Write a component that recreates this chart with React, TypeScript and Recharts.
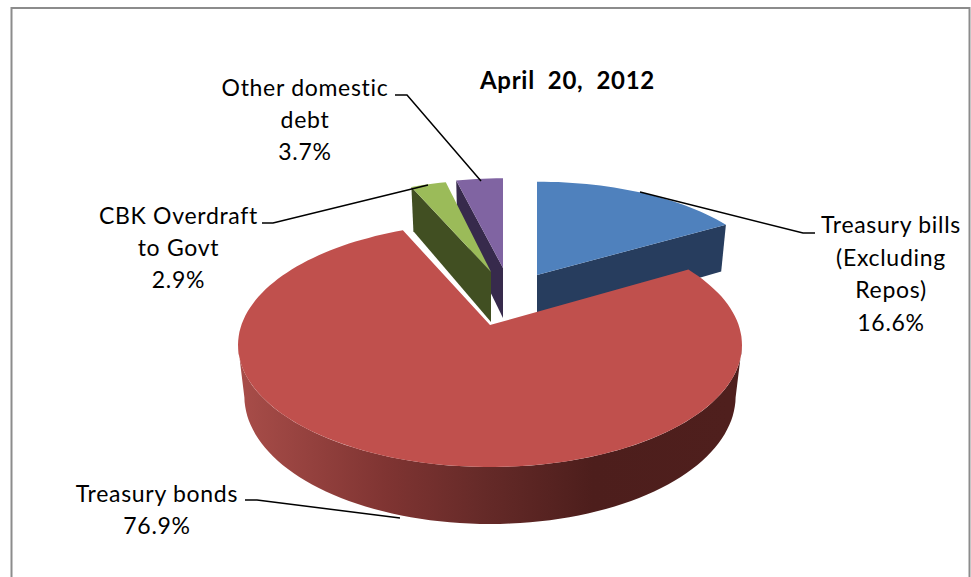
import { Pie, PieChart } from "recharts";

const sliceNames = [
  "Treasury bills (Excluding Repos)",
  "Other domestic debt",
  "CBK Overdraft to Govt",
  "Treasury bonds",
];
const sliceValues = [16.6, 3.7, 2.9, 76.9];
const titleText = "April  20,  2012";

const tableData = sliceNames.map((name, i) => ({ name, value: sliceValues[i] }));
const total = sliceValues.reduce((a, b) => a + b, 0);
// Bills start at 12 o'clock going clockwise, the sweep runs the other way so the bonds paint last.
const firstAngle = 90 - (sliceValues[0] / total) * 360;

const FONT = "Lato, Carlito, sans-serif";
const PIE_CX = 490;
const PIE_CY = 325;
const PIE_R = 248.6;
const SQUASH = 118.9;
const PERSPECTIVE = 0.1627;

const sliceLook = [
  { face: "#4F81BD", wall: "#273D5E", side: "start", dx: 47, dy: -50, kx: 0.945, ky: 0.9 },
  { face: "#8064A2", wall: "#372A4C", side: "end", dx: 13, dy: -57, kx: 0.93, ky: 0.86 },
  { face: "#9BBB59", wall: "#414F22", side: "end", dx: 1, dy: -53, kx: 0.9, ky: 0.885 },
  { face: "#C0504D", wall: "url(#bondsWall)", side: "outer", dx: 0, dy: 0, kx: 1, ky: 1 },
];

const labelLook = [
  { lines: ["Treasury bills", "(Excluding", "Repos)"], x: 891, y: 233, step: 32.7, line: "640,192 803,233 815,233" },
  { lines: ["Other domestic", "debt"], x: 305, y: 96, step: 32, line: "481,181 407,95 395,95" },
  { lines: ["CBK Overdraft", "to Govt"], x: 178.5, y: 224, step: 32, line: "428,185 273,223 262,223" },
  { lines: ["Treasury bonds"], x: 157, y: 502, step: 31.5, line: "400,518 257,500 245,500" },
];

// Tilted disc: (u, v) on the unit circle through a perspective divide, v points away from the viewer.
function project(angle: number, radius: number, look: (typeof sliceLook)[number], lower: boolean) {
  const rad = (angle * Math.PI) / 180;
  const u = Math.cos(rad) * radius * look.kx;
  const v = Math.sin(rad) * radius * look.ky;
  const div = 1 + PERSPECTIVE * v;
  const xScale = lower ? 0.975 : 1;
  return {
    x: PIE_CX + look.dx + ((PIE_R * u) / div) * xScale,
    y: PIE_CY + look.dy - (SQUASH * v) / div + (lower ? 50 - 7 * v : 0),
  };
}

const toPath = (pts: { x: number; y: number }[]) =>
  pts.map((p, i) => `${i ? "L" : "M"}${p.x.toFixed(1)},${p.y.toFixed(1)}`).join(" ") + " Z";

function arc(from: number, to: number, look: (typeof sliceLook)[number], lower: boolean) {
  const steps = Math.max(2, Math.ceil(Math.abs(to - from) / 2));
  const pts = [];
  for (let i = 0; i <= steps; i++) {
    pts.push(project(from + ((to - from) * i) / steps, 1, look, lower));
  }
  return pts;
}

function SliceShape(props: any) {
  const look = sliceLook[sliceNames.indexOf(props.name)];
  const { startAngle, endAngle } = props;
  const apex = project(0, 0, look, false);
  const apexLow = project(0, 0, look, true);
  let wall: string;
  if (look.side === "outer") {
    wall = toPath([...arc(190, 350, look, false), ...arc(350, 190, look, true)]);
  } else {
    const a = look.side === "start" ? startAngle : endAngle;
    wall = toPath([apex, project(a, 1, look, false), project(a, 1, look, true), apexLow]);
  }
  return (
    <g>
      <path d={wall} fill={look.wall} />
      <path d={toPath([apex, ...arc(startAngle, endAngle, look, false)])} fill={look.face} />
    </g>
  );
}

function SliceLabel(props: any) {
  const idx = sliceNames.indexOf(props.name);
  const look = labelLook[idx];
  const rows = [...look.lines, `${sliceValues[idx].toFixed(1)}%`];
  return (
    <g>
      <polyline points={look.line} fill="none" stroke="#000" strokeWidth={1.5} />
      <text textAnchor="middle" fontFamily={FONT} fontSize={23} letterSpacing={0.7} fill="#000">
        {rows.map((r, i) => (
          <tspan key={r} x={look.x} y={look.y + i * look.step}>
            {r}
          </tspan>
        ))}
      </text>
    </g>
  );
}

export default function App() {
  return (
    <div style={{ position: "absolute", left: 0, top: 0, width: 971, height: 577, background: "#fff" }}>
      <PieChart width={971} height={577} margin={{ top: 0, right: 0, bottom: 0, left: 0 }}>
        <defs>
          <linearGradient id="bondsWall" gradientUnits="userSpaceOnUse" x1={240} y1={0} x2={730} y2={0}>
            <stop offset="0" stopColor="#A84D49" />
            <stop offset="0.3" stopColor="#7F3432" />
            <stop offset="0.5" stopColor="#652A28" />
            <stop offset="0.72" stopColor="#4D1E1C" />
            <stop offset="1" stopColor="#4F1F1D" />
          </linearGradient>
        </defs>
        <rect x={11.5} y={8} width={958} height={590} fill="none" stroke="#8C8C8C" strokeWidth={2} />
        <Pie
          data={tableData}
          dataKey="value"
          nameKey="name"
          cx={PIE_CX}
          cy={PIE_CY}
          outerRadius={PIE_R}
          startAngle={firstAngle}
          endAngle={firstAngle + 360}
          stroke="none"
          shape={SliceShape}
          label={SliceLabel}
          labelLine={false}
          isAnimationActive={false}
        />
        <text x={567.5} y={89} textAnchor="middle" fontFamily={FONT} fontSize={24} fontWeight={700} letterSpacing={0.7} fill="#000" style={{ whiteSpace: "pre" }}>
          {titleText}
        </text>
      </PieChart>
    </div>
  );
}
